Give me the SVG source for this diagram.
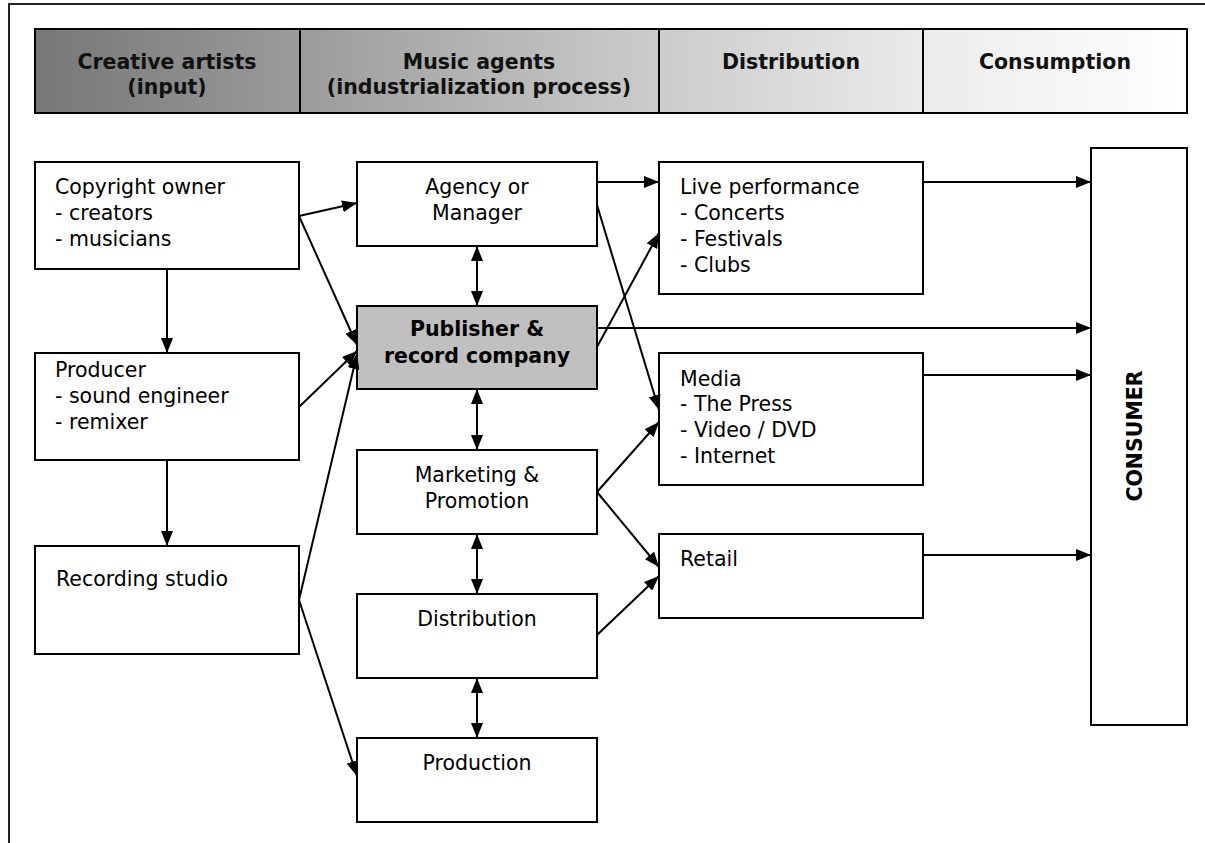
<svg xmlns="http://www.w3.org/2000/svg" width="1205" height="843" viewBox="0 0 1205 843">
<defs>
<linearGradient id="hdr" x1="35" y1="0" x2="1187" y2="0" gradientUnits="userSpaceOnUse">
<stop offset="0" stop-color="#777777"/>
<stop offset="0.5" stop-color="#c6c6c6"/>
<stop offset="0.78" stop-color="#ececec"/>
<stop offset="1" stop-color="#ffffff"/>
</linearGradient>
<marker id="ah" viewBox="0 0 15 12" refX="15" refY="6" markerWidth="15" markerHeight="12" markerUnits="userSpaceOnUse" orient="auto-start-reverse">
<path d="M0,0 L15,6 L0,12 Z" fill="#000"/>
</marker>
<style>
.box{fill:#fff;stroke:#000;stroke-width:2}
.pub{fill:#c0c0c0;stroke:#000;stroke-width:2}
.t{font-family:"DejaVu Sans",Verdana,sans-serif;font-size:20.5px;fill:#000}
.c{text-anchor:middle}
.b{font-weight:bold}
.h{font-family:"DejaVu Sans",Verdana,sans-serif;font-size:20.5px;font-weight:bold;fill:#111;text-anchor:middle}
.ln{stroke:#000;stroke-width:2;fill:none}
.a{marker-end:url(#ah)}
.aa{marker-start:url(#ah);marker-end:url(#ah)}
</style>
</defs>
<rect width="1205" height="843" fill="#fff"/>
<path d="M9,843 V4 H1205" fill="none" stroke="#222" stroke-width="2"/>

<g id="header">
<rect x="35" y="29" width="1152" height="84" fill="url(#hdr)" stroke="#000" stroke-width="2"/>
<line x1="300" y1="29" x2="300" y2="113" stroke="#000" stroke-width="2"/>
<line x1="659" y1="29" x2="659" y2="113" stroke="#000" stroke-width="2"/>
<line x1="923" y1="29" x2="923" y2="113" stroke="#000" stroke-width="2"/>
<text class="h" x="167" y="69">Creative artists</text>
<text class="h" x="167" y="94">(input)</text>
<text class="h" x="479" y="69">Music agents</text>
<text class="h" x="479" y="94">(industrialization process)</text>
<text class="h" x="791" y="69">Distribution</text>
<text class="h" x="1055" y="69">Consumption</text>
</g>

<g id="copyright">
<rect class="box" x="35" y="162" width="264" height="107"/>
<text class="t" x="55" y="194">Copyright owner</text>
<text class="t" x="55" y="220">- creators</text>
<text class="t" x="55" y="246">- musicians</text>
</g>
<g id="producer">
<rect class="box" x="35" y="353" width="264" height="107"/>
<text class="t" x="55" y="377">Producer</text>
<text class="t" x="55" y="403">- sound engineer</text>
<text class="t" x="55" y="429">- remixer</text>
</g>
<g id="recording">
<rect class="box" x="35" y="546" width="264" height="108"/>
<text class="t" x="56" y="586">Recording studio</text>
</g>

<g id="agency">
<rect class="box" x="357" y="162" width="240" height="84"/>
<text class="t c" x="477" y="194">Agency or</text>
<text class="t c" x="477" y="220">Manager</text>
</g>
<g id="publisher">
<rect class="pub" x="357" y="306" width="240" height="83"/>
<text class="t c b" x="477" y="336">Publisher &amp;</text>
<text class="t c b" x="477" y="363">record company</text>
</g>
<g id="marketing">
<rect class="box" x="357" y="450" width="240" height="84"/>
<text class="t c" x="477" y="482">Marketing &amp;</text>
<text class="t c" x="477" y="508">Promotion</text>
</g>
<g id="distribution">
<rect class="box" x="357" y="594" width="240" height="84"/>
<text class="t c" x="477" y="626">Distribution</text>
</g>
<g id="production">
<rect class="box" x="357" y="738" width="240" height="84"/>
<text class="t c" x="477" y="770">Production</text>
</g>

<g id="live">
<rect class="box" x="659" y="162" width="264" height="132"/>
<text class="t" x="680" y="194">Live performance</text>
<text class="t" x="680" y="220">- Concerts</text>
<text class="t" x="680" y="246">- Festivals</text>
<text class="t" x="680" y="272">- Clubs</text>
</g>
<g id="media">
<rect class="box" x="659" y="353" width="264" height="132"/>
<text class="t" x="680" y="386">Media</text>
<text class="t" x="680" y="411">- The Press</text>
<text class="t" x="680" y="437">- Video / DVD</text>
<text class="t" x="680" y="463">- Internet</text>
</g>
<g id="retail">
<rect class="box" x="659" y="534" width="264" height="84"/>
<text class="t" x="680" y="566">Retail</text>
</g>

<g id="consumer">
<rect class="box" x="1091" y="148" width="96" height="577"/>
<text class="t b c" transform="translate(1142,436) rotate(-90)" x="0" y="0">CONSUMER</text>
</g>

<g id="connectors">
<line class="ln a" x1="167" y1="269" x2="167" y2="353"/>
<line class="ln a" x1="167" y1="460" x2="167" y2="546"/>
<line class="ln a" x1="299" y1="216" x2="357" y2="203"/>
<line class="ln a" x1="299" y1="216" x2="357" y2="345"/>
<line class="ln a" x1="299" y1="407" x2="357" y2="351"/>
<line class="ln a" x1="299" y1="600" x2="357" y2="354"/>
<line class="ln a" x1="299" y1="600" x2="357" y2="776"/>
<line class="ln aa" x1="477" y1="246" x2="477" y2="306"/>
<line class="ln aa" x1="477" y1="389" x2="477" y2="450"/>
<line class="ln aa" x1="477" y1="534" x2="477" y2="594"/>
<line class="ln aa" x1="477" y1="678" x2="477" y2="738"/>
<line class="ln a" x1="597" y1="182" x2="659" y2="182"/>
<line class="ln a" x1="597" y1="205" x2="659" y2="410"/>
<line class="ln a" x1="597" y1="347" x2="659" y2="233"/>
<line class="ln a" x1="597" y1="328" x2="1091" y2="328"/>
<line class="ln a" x1="597" y1="492" x2="659" y2="422"/>
<line class="ln a" x1="597" y1="492" x2="659" y2="567"/>
<line class="ln a" x1="597" y1="635" x2="659" y2="576"/>
<line class="ln a" x1="923" y1="182" x2="1091" y2="182"/>
<line class="ln a" x1="923" y1="375" x2="1091" y2="375"/>
<line class="ln a" x1="923" y1="555" x2="1091" y2="555"/>
</g>
</svg>
